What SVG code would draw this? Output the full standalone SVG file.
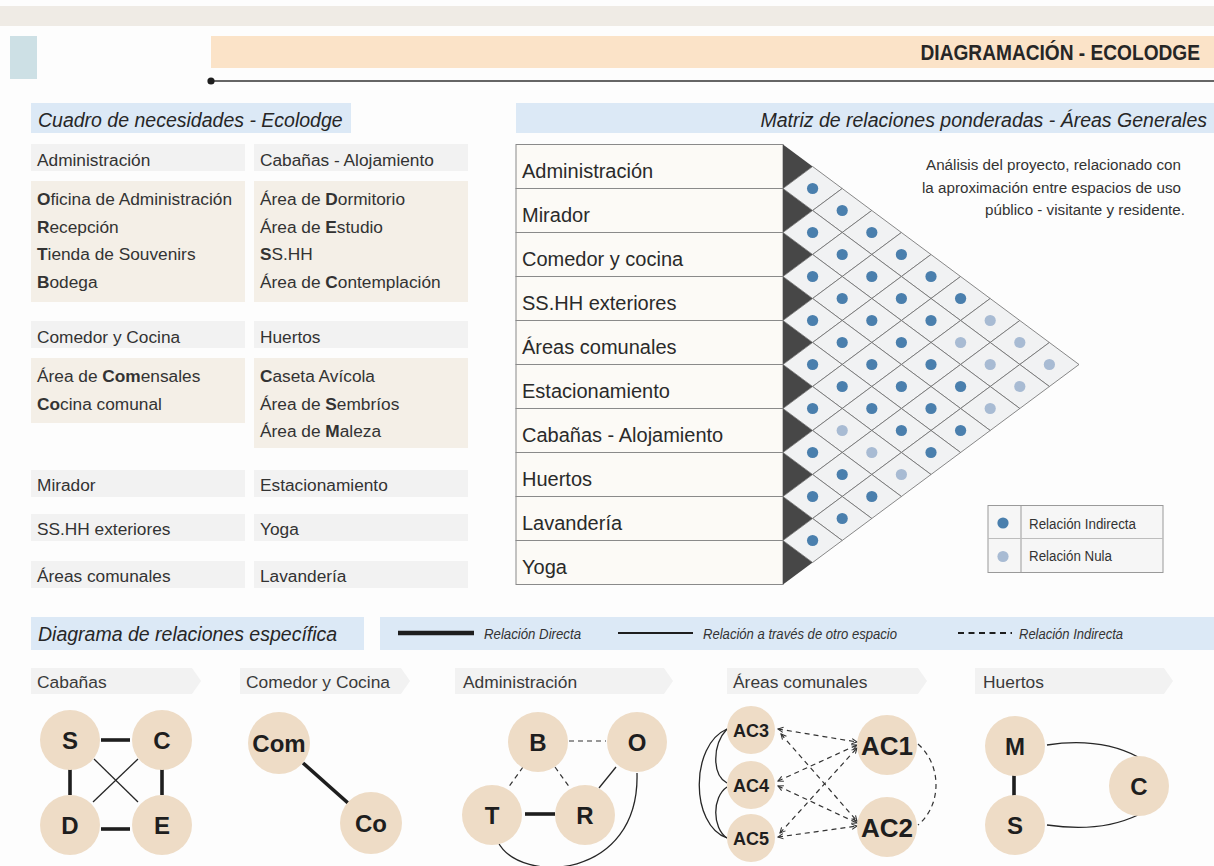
<svg xmlns="http://www.w3.org/2000/svg" xmlns:xlink="http://www.w3.org/1999/xlink" width="1214" height="866" viewBox="0 0 1214 866">
<style>
text{font-family:"Liberation Sans",Arial,sans-serif;fill:#262626}
.sec{font-size:19.5px;font-style:italic}
.tb{font-size:17.3px;fill:#333}
.ml{font-size:20px;fill:#2a2a2a}
.desc{font-size:15.5px;text-anchor:end;fill:#333}
.lg{font-size:14px;fill:#333}
.ll{font-size:14px;font-style:italic;fill:#333}
.hd{font-size:17.4px;fill:#3a3a3a}
.nl{font-weight:bold;text-anchor:middle;font-size:24px;fill:#1e1e1e}
.ns{font-weight:bold;text-anchor:middle;font-size:18px;fill:#1e1e1e}
.nb{font-weight:bold;text-anchor:middle;font-size:26px;fill:#1e1e1e}
.band{fill:#dce9f6}
.hcell{fill:#f2f2f2}
.ccell{fill:#f4efe7}
.row{fill:#fcfaf6;stroke:#8a8a8a;stroke-width:1}
.cell{fill:#f1f2f3;stroke:#6b6b6b;stroke-width:.8}
.dI{fill:#4a7fad}
.dN{fill:#a8bbd3}
.tri{fill:#474747}
.node{fill:#eedcc6}
.thick{stroke:#1e1e1e;stroke-width:3.6;fill:none;stroke-linecap:butt}
.thin{stroke:#262626;stroke-width:1.3;fill:none}
.dash{stroke:#333;stroke-width:1.2;stroke-dasharray:5 4;fill:none}
.banner{fill:#f2f2f2}
</style>
<defs>
  <polygon id="dm" class="cell" points="-29.6,0 0,-22 29.6,0 0,22"/>
  <g id="ci"><use xlink:href="#dm"/><circle r="5.6" class="dI"/></g>
  <g id="cn"><use xlink:href="#dm"/><circle r="5.6" class="dN"/></g>
  <marker id="chev" viewBox="0 0 8 8" refX="7" refY="4" markerWidth="7" markerHeight="7" markerUnits="userSpaceOnUse" orient="auto-start-reverse">
    <path d="M1,1 L7,4 L1,7" fill="none" stroke="#333" stroke-width="1.2"/>
  </marker>
</defs>

<!-- page background and header -->
<rect width="1214" height="866" fill="#fdfdfd"/>
<rect x="0" y="6" width="1214" height="20" fill="#efebe5"/>
<rect x="10" y="36" width="27" height="43" fill="#cde0e5"/>
<rect x="211" y="36" width="1003" height="32" fill="#fbe3c8"/>
<text transform="translate(1200,60) scale(0.89,1)" font-size="21.5" font-weight="bold" text-anchor="end" fill="#1e1e1e">DIAGRAMACIÓN - ECOLODGE</text>
<line x1="211" y1="81" x2="1214" y2="81" stroke="#333" stroke-width="1.5"/>
<circle cx="211" cy="81" r="3.6" fill="#1e1e1e"/>

<!-- section: needs table -->
<g id="cuadro">
  <rect class="band" x="31" y="103" width="320" height="30"/>
  <text class="sec" x="38" y="127">Cuadro de necesidades - Ecolodge</text>

  <rect class="hcell" x="31" y="144" width="214" height="27"/>
  <text class="tb" x="37" y="166">Administración</text>
  <rect class="hcell" x="254" y="144" width="214" height="27"/>
  <text class="tb" x="260" y="166">Cabañas - Alojamiento</text>

  <rect class="ccell" x="31" y="181" width="214" height="121"/>
  <text class="tb" x="37" y="205"><tspan font-weight="bold">O</tspan>ficina de Administración</text>
  <text class="tb" x="37" y="233"><tspan font-weight="bold">R</tspan>ecepción</text>
  <text class="tb" x="37" y="260"><tspan font-weight="bold">T</tspan>ienda de Souvenirs</text>
  <text class="tb" x="37" y="288"><tspan font-weight="bold">B</tspan>odega</text>
  <rect class="ccell" x="254" y="181" width="214" height="121"/>
  <text class="tb" x="260" y="205">Área de <tspan font-weight="bold">D</tspan>ormitorio</text>
  <text class="tb" x="260" y="233">Área de <tspan font-weight="bold">E</tspan>studio</text>
  <text class="tb" x="260" y="260"><tspan font-weight="bold">S</tspan>S.HH</text>
  <text class="tb" x="260" y="288">Área de <tspan font-weight="bold">C</tspan>ontemplación</text>

  <rect class="hcell" x="31" y="321" width="214" height="27"/>
  <text class="tb" x="37" y="343">Comedor y Cocina</text>
  <rect class="hcell" x="254" y="321" width="214" height="27"/>
  <text class="tb" x="260" y="343">Huertos</text>

  <rect class="ccell" x="31" y="358" width="214" height="65"/>
  <text class="tb" x="37" y="382">Área de <tspan font-weight="bold">Com</tspan>ensales</text>
  <text class="tb" x="37" y="410"><tspan font-weight="bold">Co</tspan>cina comunal</text>
  <rect class="ccell" x="254" y="358" width="214" height="90"/>
  <text class="tb" x="260" y="382"><tspan font-weight="bold">C</tspan>aseta Avícola</text>
  <text class="tb" x="260" y="410">Área de <tspan font-weight="bold">S</tspan>embríos</text>
  <text class="tb" x="260" y="437">Área de <tspan font-weight="bold">M</tspan>aleza</text>

  <rect class="hcell" x="31" y="470" width="214" height="27"/>
  <text class="tb" x="37" y="491">Mirador</text>
  <rect class="hcell" x="254" y="470" width="214" height="27"/>
  <text class="tb" x="260" y="491">Estacionamiento</text>

  <rect class="hcell" x="31" y="514" width="214" height="27"/>
  <text class="tb" x="37" y="535">SS.HH exteriores</text>
  <rect class="hcell" x="254" y="514" width="214" height="27"/>
  <text class="tb" x="260" y="535">Yoga</text>

  <rect class="hcell" x="31" y="561" width="214" height="27"/>
  <text class="tb" x="37" y="582">Áreas comunales</text>
  <rect class="hcell" x="254" y="561" width="214" height="27"/>
  <text class="tb" x="260" y="582">Lavandería</text>
</g>

<!-- section: weighted relationship matrix -->
<g id="matriz">
  <rect class="band" x="516" y="103" width="698" height="30"/>
  <text class="sec" x="1207" y="127" text-anchor="end">Matriz de relaciones ponderadas - Áreas Generales</text>

  <g id="m-rows">
    <rect class="row" x="516" y="144.5" width="267" height="44"/>
    <rect class="row" x="516" y="188.5" width="267" height="44"/>
    <rect class="row" x="516" y="232.5" width="267" height="44"/>
    <rect class="row" x="516" y="276.5" width="267" height="44"/>
    <rect class="row" x="516" y="320.5" width="267" height="44"/>
    <rect class="row" x="516" y="364.5" width="267" height="44"/>
    <rect class="row" x="516" y="408.5" width="267" height="44"/>
    <rect class="row" x="516" y="452.5" width="267" height="44"/>
    <rect class="row" x="516" y="496.5" width="267" height="44"/>
    <rect class="row" x="516" y="540.5" width="267" height="44"/>
    <text class="ml" x="522" y="177.5">Administración</text>
    <text class="ml" x="522" y="221.5">Mirador</text>
    <text class="ml" x="522" y="265.5">Comedor y cocina</text>
    <text class="ml" x="522" y="309.5">SS.HH exteriores</text>
    <text class="ml" x="522" y="353.5">Áreas comunales</text>
    <text class="ml" x="522" y="397.5">Estacionamiento</text>
    <text class="ml" x="522" y="441.5">Cabañas - Alojamiento</text>
    <text class="ml" x="522" y="485.5">Huertos</text>
    <text class="ml" x="522" y="529.5">Lavandería</text>
    <text class="ml" x="522" y="573.5">Yoga</text>
  </g>

  <!-- row markers -->
  <g id="m-markers">
    <polygon class="tri" points="783,144.5 812.6,166.5 783,188.5"/>
    <polygon class="tri" points="783,188.5 812.6,210.5 783,232.5"/>
    <polygon class="tri" points="783,232.5 812.6,254.5 783,276.5"/>
    <polygon class="tri" points="783,276.5 812.6,298.5 783,320.5"/>
    <polygon class="tri" points="783,320.5 812.6,342.5 783,364.5"/>
    <polygon class="tri" points="783,364.5 812.6,386.5 783,408.5"/>
    <polygon class="tri" points="783,408.5 812.6,430.5 783,452.5"/>
    <polygon class="tri" points="783,452.5 812.6,474.5 783,496.5"/>
    <polygon class="tri" points="783,496.5 812.6,518.5 783,540.5"/>
    <polygon class="tri" points="783,540.5 812.6,562.5 783,584.5"/>
  </g>

  <!-- pair cells: ci = indirect, cn = null -->
  <g id="m-cells">
    <use xlink:href="#ci" x="812.6" y="188.5"/>
    <use xlink:href="#ci" x="842.2" y="210.5"/>
    <use xlink:href="#ci" x="812.6" y="232.5"/>
    <use xlink:href="#ci" x="871.8" y="232.5"/>
    <use xlink:href="#ci" x="842.2" y="254.5"/>
    <use xlink:href="#ci" x="901.4" y="254.5"/>
    <use xlink:href="#ci" x="812.6" y="276.5"/>
    <use xlink:href="#ci" x="871.8" y="276.5"/>
    <use xlink:href="#ci" x="931" y="276.5"/>
    <use xlink:href="#ci" x="842.2" y="298.5"/>
    <use xlink:href="#ci" x="901.4" y="298.5"/>
    <use xlink:href="#ci" x="960.6" y="298.5"/>
    <use xlink:href="#ci" x="812.6" y="320.5"/>
    <use xlink:href="#ci" x="871.8" y="320.5"/>
    <use xlink:href="#ci" x="931" y="320.5"/>
    <use xlink:href="#cn" x="990.2" y="320.5"/>
    <use xlink:href="#ci" x="842.2" y="342.5"/>
    <use xlink:href="#ci" x="901.4" y="342.5"/>
    <use xlink:href="#cn" x="960.6" y="342.5"/>
    <use xlink:href="#cn" x="1019.8" y="342.5"/>
    <use xlink:href="#ci" x="812.6" y="364.5"/>
    <use xlink:href="#ci" x="871.8" y="364.5"/>
    <use xlink:href="#ci" x="931" y="364.5"/>
    <use xlink:href="#cn" x="990.2" y="364.5"/>
    <use xlink:href="#cn" x="1049.4" y="364.5"/>
    <use xlink:href="#ci" x="842.2" y="386.5"/>
    <use xlink:href="#ci" x="901.4" y="386.5"/>
    <use xlink:href="#ci" x="960.6" y="386.5"/>
    <use xlink:href="#cn" x="1019.8" y="386.5"/>
    <use xlink:href="#ci" x="812.6" y="408.5"/>
    <use xlink:href="#ci" x="871.8" y="408.5"/>
    <use xlink:href="#ci" x="931" y="408.5"/>
    <use xlink:href="#cn" x="990.2" y="408.5"/>
    <use xlink:href="#cn" x="842.2" y="430.5"/>
    <use xlink:href="#ci" x="901.4" y="430.5"/>
    <use xlink:href="#ci" x="960.6" y="430.5"/>
    <use xlink:href="#ci" x="812.6" y="452.5"/>
    <use xlink:href="#cn" x="871.8" y="452.5"/>
    <use xlink:href="#ci" x="931" y="452.5"/>
    <use xlink:href="#ci" x="842.2" y="474.5"/>
    <use xlink:href="#cn" x="901.4" y="474.5"/>
    <use xlink:href="#ci" x="812.6" y="496.5"/>
    <use xlink:href="#ci" x="871.8" y="496.5"/>
    <use xlink:href="#ci" x="842.2" y="518.5"/>
    <use xlink:href="#ci" x="812.6" y="540.5"/>
  </g>

  <text class="desc" x="1181" y="170" textLength="255" lengthAdjust="spacingAndGlyphs">Análisis del proyecto, relacionado con</text>
  <text class="desc" x="1181" y="192.5" textLength="259" lengthAdjust="spacingAndGlyphs">la aproximación entre espacios de uso</text>
  <text class="desc" x="1185" y="215" textLength="200" lengthAdjust="spacingAndGlyphs">público - visitante y residente.</text>

  <g id="m-legend">
    <rect x="988" y="505.5" width="175" height="67" fill="#f6f6f6" stroke="#9a9a9a" stroke-width="1"/>
    <line x1="1021" y1="505.5" x2="1021" y2="572.5" stroke="#9a9a9a" stroke-width="1"/>
    <line x1="988" y1="538.5" x2="1163" y2="538.5" stroke="#bdbdbd" stroke-width="1"/>
    <circle cx="1003" cy="523" r="5.6" class="dI"/>
    <circle cx="1003" cy="556.5" r="5.6" class="dN"/>
    <text class="lg" x="1029" y="529" textLength="107" lengthAdjust="spacingAndGlyphs">Relación Indirecta</text>
    <text class="lg" x="1029" y="561" textLength="83" lengthAdjust="spacingAndGlyphs">Relación Nula</text>
  </g>
</g>

<!-- section: specific relationship diagrams -->
<g id="especifica">
  <rect class="band" x="31" y="617" width="333" height="33"/>
  <text class="sec" x="38" y="641">Diagrama de relaciones específica</text>
  <rect class="band" x="380" y="617" width="834" height="33"/>
  <line x1="398" y1="633" x2="474" y2="633" stroke="#1e1e1e" stroke-width="4.5"/>
  <text class="ll" x="484" y="639" textLength="97" lengthAdjust="spacingAndGlyphs">Relación Directa</text>
  <line x1="618" y1="633" x2="693" y2="633" stroke="#1e1e1e" stroke-width="2.2"/>
  <text class="ll" x="703" y="639" textLength="194" lengthAdjust="spacingAndGlyphs">Relación a través de otro espacio</text>
  <line x1="958" y1="633" x2="1012" y2="633" stroke="#1e1e1e" stroke-width="2" stroke-dasharray="6 4.5"/>
  <text class="ll" x="1019" y="639" textLength="104" lengthAdjust="spacingAndGlyphs">Relación Indirecta</text>

  <polygon class="banner" points="31,668 192,668 201,681 192,694 31,694"/>
  <text class="hd" x="37" y="688">Cabañas</text>
  <polygon class="banner" points="240,668 401,668 410,681 401,694 240,694"/>
  <text class="hd" x="246" y="688">Comedor y Cocina</text>
  <polygon class="banner" points="455,668 664,668 673,681 664,694 455,694"/>
  <text class="hd" x="463" y="688">Administración</text>
  <polygon class="banner" points="727,668 918,668 927,681 918,694 727,694"/>
  <text class="hd" x="733" y="688">Áreas comunales</text>
  <polygon class="banner" points="975,668 1164,668 1173,681 1164,694 975,694"/>
  <text class="hd" x="983" y="688">Huertos</text>
</g>

<!-- connectors of the specific diagrams -->
<g id="connectors">
  <!-- Cabañas -->
  <line class="thick" x1="101" y1="740" x2="130" y2="740"/>
  <line class="thick" x1="70" y1="767" x2="70" y2="795"/>
  <line class="thick" x1="162" y1="767" x2="162" y2="795"/>
  <line class="thick" x1="101" y1="829" x2="130" y2="829"/>
  <line class="thin" x1="94" y1="759" x2="138" y2="802"/>
  <line class="thin" x1="138" y1="759" x2="93" y2="802"/>
  <!-- Comedor y Cocina -->
  <line class="thick" x1="303" y1="763" x2="348" y2="803"/>
  <!-- Administración -->
  <line class="dash" x1="569" y1="741" x2="606" y2="741"/>
  <line class="dash" x1="523" y1="767" x2="508" y2="788"/>
  <line class="dash" x1="555" y1="767" x2="570" y2="788"/>
  <line class="thin" x1="616" y1="767" x2="599" y2="788"/>
  <line class="thick" x1="525" y1="814" x2="555" y2="814"/>
  <path class="thin" d="M498,842 C520,885 640,880 637,773"/>
  <!-- Áreas comunales -->
  <path class="thin" d="M727,729 C690,745 690,825 727,838"/>
  <path class="thin" d="M727,729 C712,745 712,775 727,783"/>
  <path class="thin" d="M727,787 C712,797 712,828 727,838"/>
  <g marker-start="url(#chev)" marker-end="url(#chev)">
    <line class="dash" x1="778" y1="729" x2="857" y2="742"/>
    <line class="dash" x1="781" y1="734" x2="857" y2="821"/>
    <line class="dash" x1="778" y1="781" x2="857" y2="745"/>
    <line class="dash" x1="778" y1="786" x2="857" y2="823"/>
    <line class="dash" x1="780" y1="833" x2="857" y2="748"/>
    <line class="dash" x1="778" y1="837" x2="857" y2="826"/>
  </g>
  <path class="dash" d="M918,744 C942,765 942,805 918,825"/>
  <!-- Huertos -->
  <line class="thick" x1="1014" y1="775" x2="1014" y2="796"/>
  <path class="thin" d="M1047,745 Q1100,737 1138,757"/>
  <path class="thin" d="M1047,825 Q1100,833 1138,815"/>
</g>

<!-- nodes -->
<g id="n-cab-S"><circle class="node" cx="70" cy="740" r="30"/><text class="nl" x="70" y="748.5">S</text></g>
<g id="n-cab-C"><circle class="node" cx="162" cy="740" r="30"/><text class="nl" x="162" y="748.5">C</text></g>
<g id="n-cab-D"><circle class="node" cx="70" cy="825" r="30"/><text class="nl" x="70" y="833.5">D</text></g>
<g id="n-cab-E"><circle class="node" cx="162" cy="825" r="30"/><text class="nl" x="162" y="833.5">E</text></g>

<g id="n-com-Com"><circle class="node" cx="279" cy="743" r="31"/><text class="nl" x="279" y="751.5">Com</text></g>
<g id="n-com-Co"><circle class="node" cx="371" cy="823" r="31"/><text class="nl" x="371" y="831.5">Co</text></g>

<g id="n-adm-B"><circle class="node" cx="538" cy="742" r="30"/><text class="nl" x="538" y="750.5">B</text></g>
<g id="n-adm-O"><circle class="node" cx="637" cy="742" r="30"/><text class="nl" x="637" y="750.5">O</text></g>
<g id="n-adm-T"><circle class="node" cx="492" cy="815" r="30"/><text class="nl" x="492" y="823.5">T</text></g>
<g id="n-adm-R"><circle class="node" cx="585" cy="815" r="30"/><text class="nl" x="585" y="823.5">R</text></g>

<g id="n-ac3"><circle class="node" cx="751" cy="730" r="24"/><text class="ns" x="751" y="736.5">AC3</text></g>
<g id="n-ac4"><circle class="node" cx="751" cy="785" r="24"/><text class="ns" x="751" y="791.5">AC4</text></g>
<g id="n-ac5"><circle class="node" cx="751" cy="838" r="24"/><text class="ns" x="751" y="844.5">AC5</text></g>
<g id="n-ac1"><circle class="node" cx="887" cy="745" r="30"/><text class="nb" x="887" y="754.5">AC1</text></g>
<g id="n-ac2"><circle class="node" cx="887" cy="827" r="30"/><text class="nb" x="887" y="836.5">AC2</text></g>

<g id="n-hue-M"><circle class="node" cx="1015" cy="746" r="30"/><text class="nl" x="1015" y="754.5">M</text></g>
<g id="n-hue-S"><circle class="node" cx="1015" cy="825" r="30"/><text class="nl" x="1015" y="833.5">S</text></g>
<g id="n-hue-C"><circle class="node" cx="1139" cy="786" r="30"/><text class="nl" x="1139" y="794.5">C</text></g>
</svg>
